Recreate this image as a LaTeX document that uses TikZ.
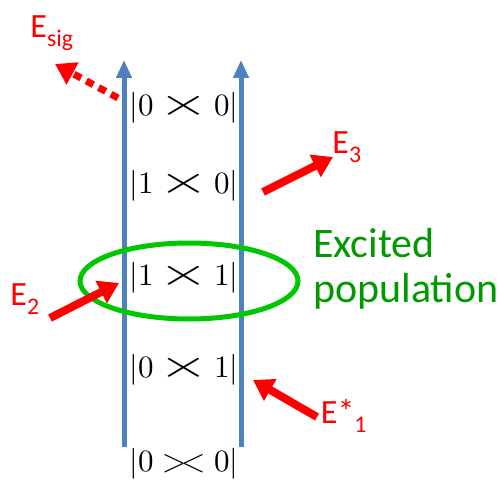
\documentclass[tikz,border=0pt]{standalone}
\usepackage{fontspec}
\usepackage{unicode-math}
\setmathfont{Latin Modern Math}
\newfontfamily\calib{Carlito}
\usetikzlibrary{positioning, calc, arrows.meta, shapes.geometric}

\definecolor{axisblue}{RGB}{79,129,189}
\definecolor{beamred}{RGB}{255,0,0}
\definecolor{popgreen}{RGB}{0,200,0}
\definecolor{txtgreen}{RGB}{0,153,0}

%% bra-ket crossing
\newcommand{\kcross}{\mathrel{\mkern-2mu\scalebox{2.1}[1.25]{$\times$}\mkern-2mu}}
\newcommand{\kopen}{\mathrel{>\mkern-3mu<}}

\begin{document}
\begin{tikzpicture}[x=1pt, y=-1pt,
  %% estados da matriz densidade
  ket/.style={font=\fontsize{31}{36}\selectfont, inner sep=0pt},
  %% campos
  elabel/.style={text=beamred, font=\calib\fontsize{34}{40}\selectfont, inner sep=0pt},
  %% eixos de tempo
  axis/.style={draw=axisblue, line width=5pt, -{Triangle[length=18pt,width=15pt]}},
  %% setas dos campos
  beam/.style={draw=beamred, line width=8pt, -{Triangle[length=20pt,width=24pt]}},
  ring/.style={ellipse, draw=popgreen, line width=5pt, minimum width=218pt, minimum height=76pt}
]
\useasboundingbox (0,0) rectangle (501,484);

%% eixos
\coordinate (lbot) at (124,447);
\coordinate (ltop) at (124,60);
\coordinate (rbot) at (241,447);
\coordinate (rtop) at (241,60);
\draw[axis] (lbot) -- (ltop);
\draw[axis] (rbot) -- (rtop);

%% estados
\node[ket] (k00) at (184,108) {$|0 \kcross 0|$};
\node[ket] (k10) at (184,186) {$|1 \kcross 0|$};
\node[ket] (k11) at (184,278) {$|1 \kcross 1|$};
\node[ket] (k01) at (184,370) {$|0 \kcross 1|$};
\node[ket] (kgnd) at (184,464) {$|0 \kopen 0|$};

%% populacao excitada
\node[ring] (pop) at (189,281) {};
\node[text=txtgreen, font=\calib\fontsize{42}{45}\selectfont, align=left,
      anchor=north west, inner sep=0pt] (poptxt) at (313,228) {Excited\\population};

%% campos
\node[elabel] (esig) at (52,33) {E\textsubscript{sig}};
\node[elabel] (ethree) at (347,147) {E\textsubscript{3}};
\node[elabel] (etwo) at (25,299) {E\textsubscript{2}};
\node[elabel] (eone) at (344,416) {E*\textsubscript{1}};

\coordinate (sigfrom) at (118,98);
\coordinate (sigto) at (55,64);
\coordinate (thrfrom) at (263,192);
\coordinate (thrto) at (333,157);
\coordinate (twofrom) at (50,318);
\coordinate (twoto) at (119,283);
\coordinate (onefrom) at (317,417);
\coordinate (oneto) at (253,380);

\draw[beam, line width=7pt, dash pattern=on 8pt off 6pt] (sigfrom) -- (sigto);
\draw[beam] (thrfrom) -- (thrto);
\draw[beam] (twofrom) -- (twoto);
\draw[beam] (onefrom) -- (oneto);

\end{tikzpicture}
\end{document}
